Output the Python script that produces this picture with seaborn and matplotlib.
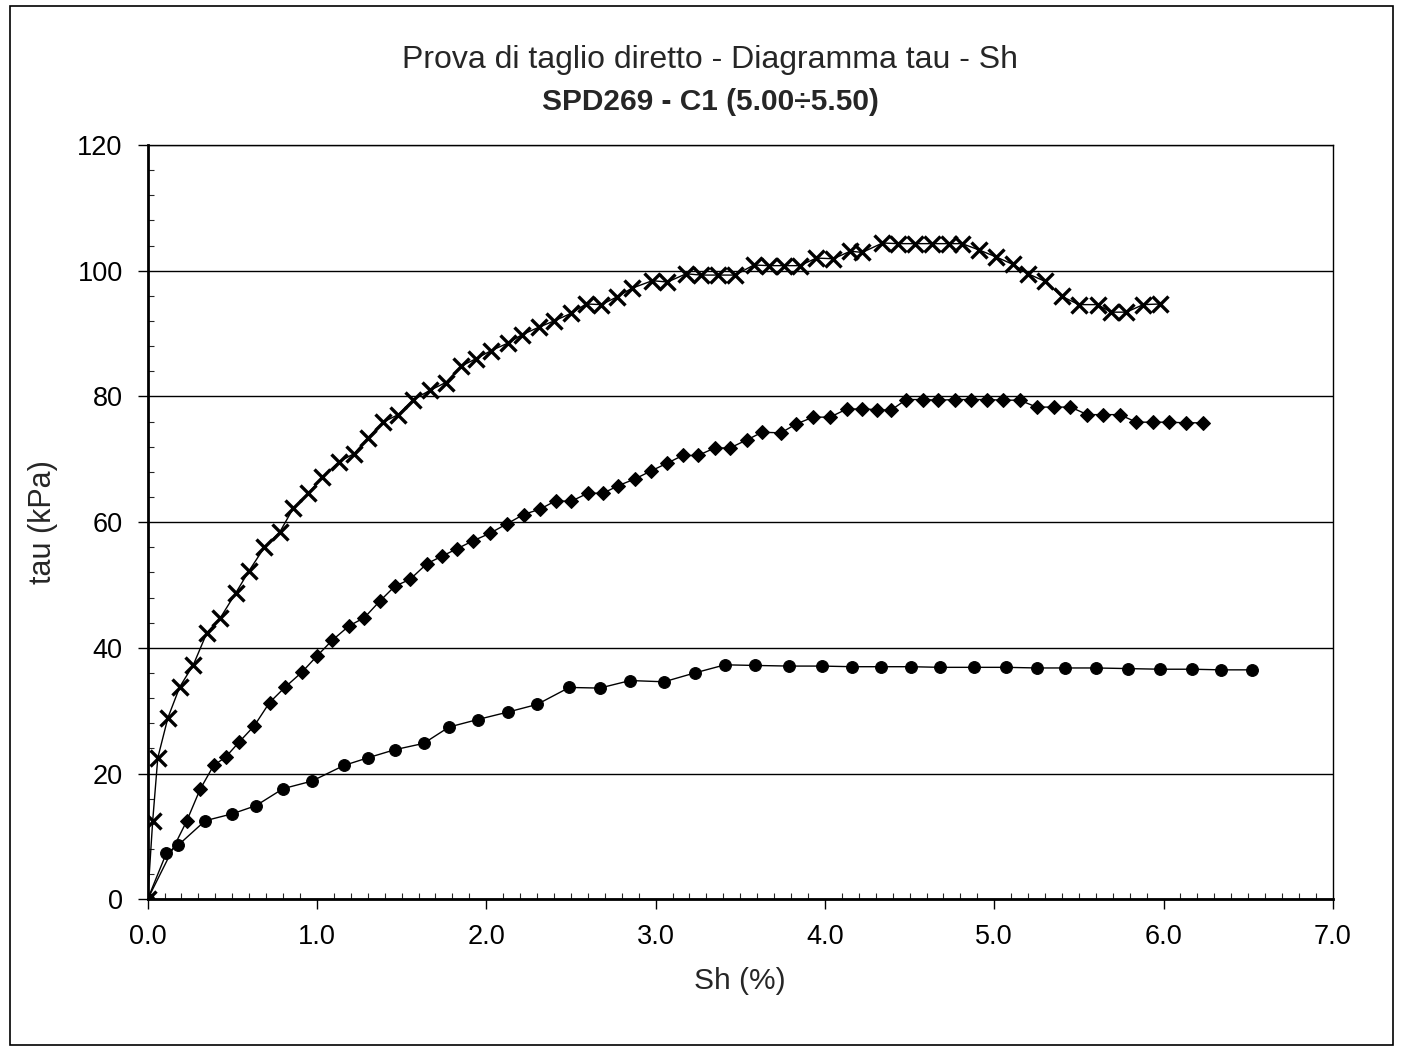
import matplotlib
matplotlib.use("Agg")
import matplotlib.pyplot as plt
import seaborn as sns
from matplotlib.patches import Rectangle
from matplotlib.ticker import MultipleLocator, FormatStrFormatter

# curva superiore (crocette)
sh_1 = [0, 0.03, 0.06, 0.12, 0.19, 0.27, 0.35, 0.43, 0.52, 0.60, 0.69, 0.78, 0.86, 0.95,
        1.03, 1.13, 1.22, 1.30, 1.39, 1.48, 1.57, 1.67, 1.76, 1.85, 1.94, 2.03, 2.13,
        2.21, 2.31, 2.40, 2.50, 2.59, 2.68, 2.77, 2.86, 2.98, 3.07, 3.18, 3.27, 3.37,
        3.47, 3.58, 3.67, 3.76, 3.85, 3.95, 4.05, 4.15, 4.22, 4.34, 4.43, 4.53, 4.63,
        4.73, 4.81, 4.91, 5.01, 5.11, 5.20, 5.30, 5.40, 5.50, 5.61, 5.69, 5.78, 5.88, 5.98]
tau_1 = [0, 12.5, 22.5, 28.9, 33.8, 37.3, 42.4, 44.8, 48.7, 52.3, 56.0, 58.4, 62.2, 64.6,
         67.1, 69.6, 70.9, 73.4, 75.9, 77.1, 79.5, 81.0, 82.2, 84.8, 86.0, 87.3, 88.5,
         89.8, 91.0, 92.0, 93.2, 94.7, 94.6, 95.8, 97.2, 98.4, 98.2, 99.5, 99.3, 99.3,
         99.3, 100.9, 100.8, 100.8, 100.8, 102.0, 101.9, 103.1, 102.9, 104.4, 104.3, 104.3, 104.3,
         104.3, 104.3, 103.3, 102.2, 101.0, 99.5, 98.3, 95.9, 94.6, 94.6, 93.4, 93.4, 94.6, 94.7]

# curva intermedia (rombi)
sh_2 = [0, 0.23, 0.31, 0.39, 0.46, 0.54, 0.63, 0.72, 0.81, 0.91, 1.00, 1.09, 1.19, 1.28,
        1.37, 1.46, 1.55, 1.65, 1.74, 1.83, 1.92, 2.02, 2.12, 2.22, 2.32, 2.41, 2.50,
        2.60, 2.69, 2.78, 2.88, 2.97, 3.07, 3.16, 3.25, 3.35, 3.44, 3.54, 3.63, 3.74,
        3.83, 3.93, 4.03, 4.13, 4.22, 4.31, 4.39, 4.48, 4.58, 4.67, 4.77, 4.86, 4.96,
        5.05, 5.15, 5.25, 5.35, 5.45, 5.55, 5.64, 5.74, 5.84, 5.94, 6.03, 6.13, 6.23]
tau_2 = [0, 12.4, 17.5, 21.3, 22.6, 25.0, 27.6, 31.3, 33.7, 36.1, 38.7, 41.2, 43.5, 44.8,
         47.4, 49.8, 50.9, 53.4, 54.6, 55.8, 57.0, 58.2, 59.7, 61.2, 62.1, 63.4, 63.3,
         64.6, 64.6, 65.8, 66.9, 68.1, 69.4, 70.6, 70.6, 71.8, 71.8, 73.1, 74.3, 74.2,
         75.6, 76.7, 76.7, 78.0, 78.0, 77.9, 77.8, 79.5, 79.5, 79.4, 79.5, 79.5, 79.5,
         79.4, 79.4, 78.3, 78.3, 78.3, 77.1, 77.1, 77.1, 75.9, 75.9, 75.9, 75.8, 75.8]

# curva inferiore (cerchi)
sh_3 = [0, 0.11, 0.18, 0.34, 0.50, 0.64, 0.80, 0.97, 1.16, 1.30, 1.46, 1.63, 1.78, 1.95,
        2.13, 2.30, 2.49, 2.67, 2.85, 3.05, 3.23, 3.41, 3.59, 3.79, 3.98, 4.16, 4.33,
        4.51, 4.68, 4.88, 5.07, 5.25, 5.42, 5.60, 5.79, 5.98, 6.17, 6.34, 6.52]
tau_3 = [0, 7.3, 8.6, 12.5, 13.6, 14.9, 17.6, 18.8, 21.3, 22.5, 23.8, 24.8, 27.4, 28.6,
         29.8, 31.0, 33.7, 33.6, 34.8, 34.6, 36.0, 37.3, 37.2, 37.1, 37.1, 37.0, 37.0,
         37.0, 36.9, 36.9, 36.9, 36.8, 36.8, 36.8, 36.7, 36.6, 36.6, 36.5, 36.5]

sns.set_style("white")
plt.rcParams['font.family'] = ['Liberation Sans', 'DejaVu Sans']

fig = plt.figure(figsize=(14.06, 10.58), dpi=100)
ax = fig.add_axes([0.105, 0.150, 0.843, 0.713])

sns.lineplot(x=sh_1, y=tau_1, ax=ax, color='black', linewidth=1, estimator=None, sort=False,
             marker='x', markersize=11, markeredgewidth=2.4, markeredgecolor='black')
sns.lineplot(x=sh_2, y=tau_2, ax=ax, color='black', linewidth=1, estimator=None, sort=False,
             marker='D', markersize=7.5, markeredgecolor='black', markerfacecolor='black')
sns.lineplot(x=sh_3, y=tau_3, ax=ax, color='black', linewidth=1, estimator=None, sort=False,
             marker='o', markersize=8.5, markeredgecolor='black', markerfacecolor='black')

ax.set_xlim(0, 7)
ax.set_ylim(0, 120)
ax.xaxis.set_major_locator(MultipleLocator(1))
ax.xaxis.set_minor_locator(MultipleLocator(0.1))
ax.yaxis.set_major_locator(MultipleLocator(20))
ax.yaxis.set_minor_locator(MultipleLocator(4))
ax.xaxis.set_major_formatter(FormatStrFormatter('%.1f'))
ax.tick_params(which='major', direction='out', length=7, width=1, labelsize=19.5, pad=11, colors='black')
ax.tick_params(which='minor', direction='in', length=4, width=0.8)
ax.tick_params(axis='x', which='both', bottom=True)
ax.tick_params(axis='y', which='both', left=True)

ax.grid(axis='y', which='major', color='black', linewidth=1)
ax.set_axisbelow(True)
for side in ['top', 'right']:
    ax.spines[side].set_linewidth(1)
    ax.spines[side].set_color('black')
for side in ['left', 'bottom']:
    ax.spines[side].set_linewidth(2)
    ax.spines[side].set_color('black')

ax.set_xlabel("Sh (%)", fontsize=21.5, labelpad=12)
ax.set_ylabel("tau (kPa)", fontsize=22, labelpad=14)

fig.text(0.505, 0.943, "Prova di taglio diretto - Diagramma tau - Sh", ha='center', va='center', fontsize=23)
fig.text(0.505, 0.904, "SPD269 - C1 (5.00÷5.50)", ha='center', va='center', fontsize=21.5, fontweight='bold')

fig.patches.append(Rectangle((0.007, 0.012), 0.984, 0.982, transform=fig.transFigure,
                             fill=False, edgecolor='black', linewidth=1.2))

fig.savefig("out.png", dpi=100)
